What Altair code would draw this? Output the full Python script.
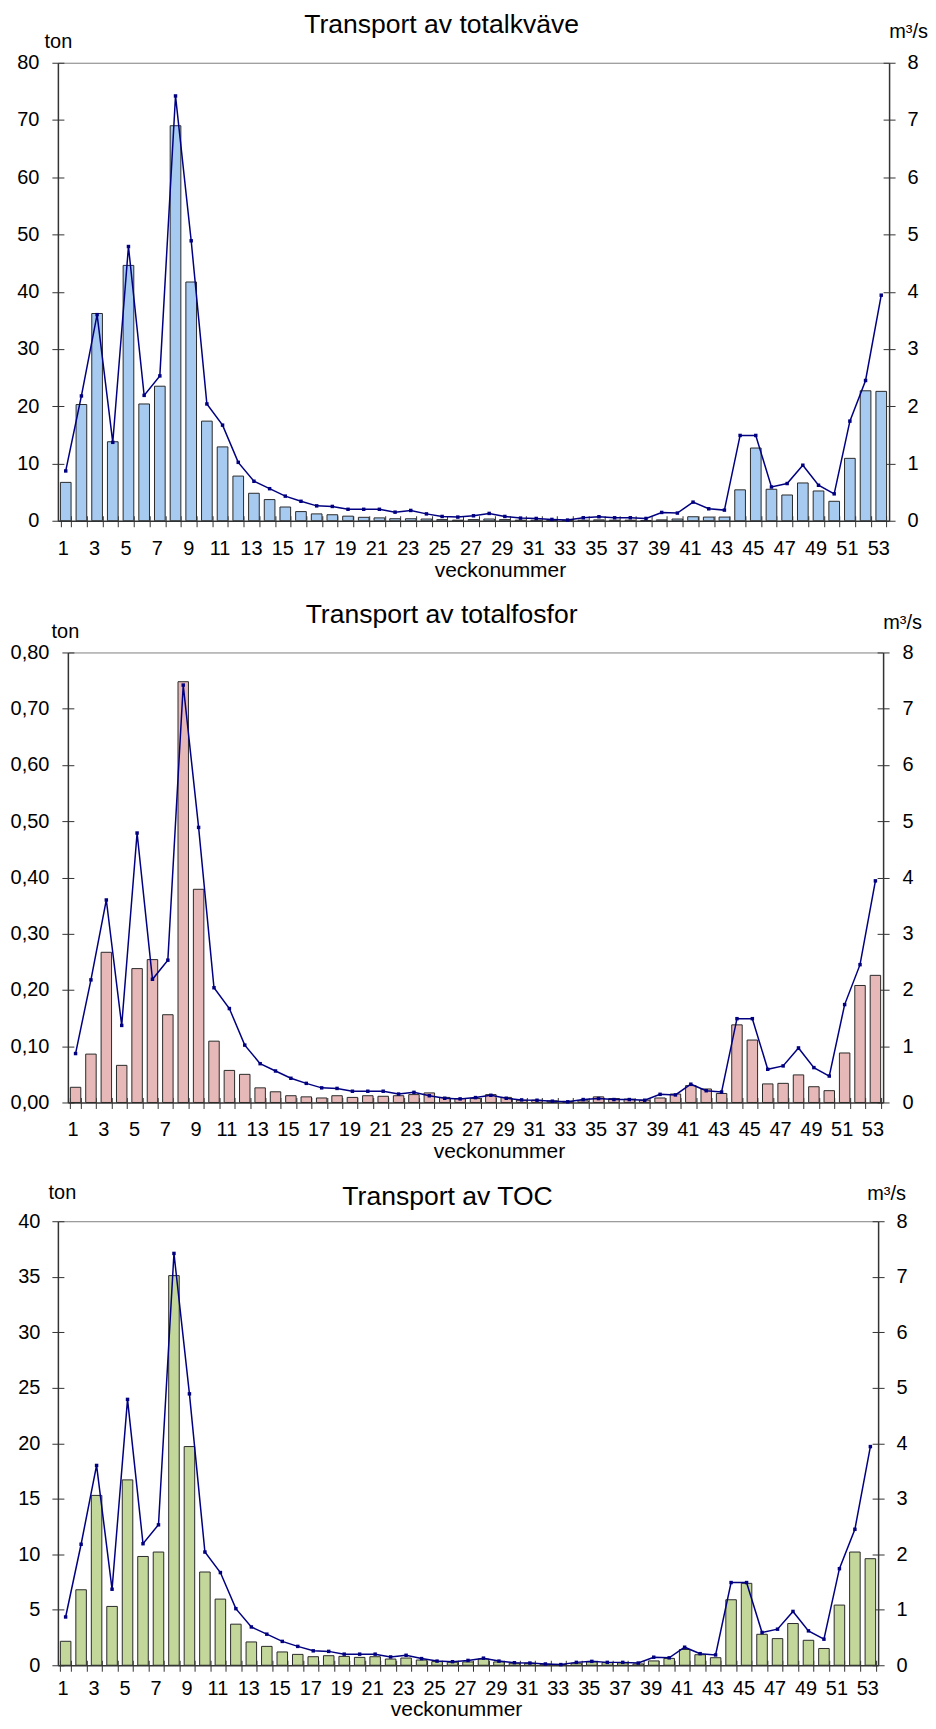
import altair as alt
import pandas as pd

weeks = list(range(1, 54))

flow = [0.87, 2.18, 3.60, 1.37, 4.79, 2.19, 2.53, 7.42, 4.89, 2.04,
        1.67, 1.02, 0.69, 0.56, 0.43, 0.34, 0.26, 0.25, 0.20, 0.20,
        0.20, 0.15, 0.18, 0.12, 0.075, 0.064, 0.087, 0.128, 0.075, 0.046,
        0.04, 0.023, 0.012, 0.052, 0.07, 0.052, 0.052, 0.04, 0.145, 0.134,
        0.325, 0.209, 0.186, 1.49, 1.49, 0.59, 0.65, 0.97, 0.62, 0.47,
        1.74, 2.45, 3.94]

kvave = [6.7, 20.3, 36.2, 13.8, 44.6, 20.4, 23.5, 69.0, 41.7, 17.4,
         12.9, 7.8, 4.8, 3.7, 2.4, 1.6, 1.2, 1.05, 0.8, 0.6,
         0.5, 0.35, 0.35, 0.3, 0.2, 0.1, 0.2, 0.3, 0.2, 0.1,
         0.1, 0.05, 0.05, 0.1, 0.15, 0.1, 0.1, 0.05, 0.15, 0.3,
         0.7, 0.64, 0.64, 5.4, 12.7, 5.5, 4.5, 6.6, 5.2, 3.4,
         10.9, 22.7, 22.6]

fosfor = [0.027, 0.086, 0.267, 0.066, 0.238, 0.254, 0.156, 0.748, 0.379, 0.109,
          0.057, 0.050, 0.026, 0.019, 0.012, 0.010, 0.008, 0.012, 0.009, 0.012,
          0.011, 0.012, 0.014, 0.017, 0.009, 0.007, 0.007, 0.014, 0.009, 0.004,
          0.004, 0.003, 0.002, 0.003, 0.010, 0.007, 0.006, 0.004, 0.008, 0.015,
          0.030, 0.024, 0.016, 0.138, 0.111, 0.033, 0.034, 0.049, 0.028, 0.021,
          0.088, 0.208, 0.226]

toc = [2.16, 6.8, 15.3, 5.3, 16.7, 9.8, 10.2, 35.1, 19.7, 8.4,
       5.96, 3.7, 2.1, 1.7, 1.2, 0.98, 0.77, 0.86, 0.8, 0.71,
       0.77, 0.56, 0.65, 0.47, 0.33, 0.27, 0.3, 0.56, 0.3, 0.18,
       0.18, 0.09, 0.06, 0.18, 0.3, 0.24, 0.21, 0.12, 0.39, 0.62,
       1.42, 0.95, 0.68, 5.9, 7.38, 2.79, 2.4, 3.76, 2.25, 1.51,
       5.42, 10.2, 9.6]

titles = ["Transport av totalkväve", "Transport av totalfosfor", "Transport av TOC"]
left_ticks_kvave = list(range(0, 81, 10))
left_ticks_fosfor = [round(i * 0.1, 2) for i in range(9)]
left_ticks_toc = list(range(0, 41, 5))
right_ticks = list(range(0, 9))

FONT = "Liberation Sans"


def panel(values, color, ymax, yticks, ylabel_expr, title, p):
    df = pd.DataFrame({"vecka": weeks, "ton": values, "flode": flow})
    base = alt.Chart(df)
    shift = p.get("xshift", 0)
    sc = dict(paddingInner=0.32, paddingOuter=0.16)
    if shift:
        sc["range"] = [shift, p["w"]]
    xscale = alt.Scale(**sc)
    x_bottom = alt.X(
        "vecka:O", scale=xscale,
        axis=alt.Axis(
            orient="bottom", title="veckonummer", labelAngle=0,
            labelExpr="datum.value % 2 == 1 ? datum.label : ''",
            tickBand="extent", labelPadding=p["xpad"], labelOffset=-3,
            titleX=p["xtx"], titleY=p["xty"], titleAlign="center",
            titleBaseline="alphabetic", titleFontSize=21,
        ),
    )
    # inner halves of the x ticks (ticks cross the axis line)
    x_inner = alt.X(
        "vecka:O", scale=xscale,
        axis=alt.Axis(
            orient="top", offset=-p["h"], labels=False, domain=False,
            tickBand="extent", tickSize=5, title=None,
        ),
    )
    x_top = alt.X(
        "vecka:O", scale=xscale,
        axis=alt.Axis(
            orient="top", title=title, labels=False, ticks=False,
            domainColor="#808080", domainWidth=1,
            titleFontSize=26.6, titleX=p["ttx"], titleY=p["tty"],
            titleAlign="center", titleBaseline="alphabetic",
        ),
    )
    x_none = alt.X("vecka:O", scale=xscale, axis=None)
    yaxis = dict(
        values=yticks, labelExpr=ylabel_expr, title="ton",
        titleAngle=0, titleAlign="center", titleBaseline="alphabetic",
        titleX=p["ltx"], titleY=p["lty"], labelPadding=p["lpad"],
    )
    if shift:
        yaxis["offset"] = -shift
    bars = base.mark_bar(color=color, stroke="#2a2a2a", strokeWidth=1).encode(
        x=x_bottom,
        y=alt.Y("ton:Q", scale=alt.Scale(domain=[0, ymax], nice=False),
                axis=alt.Axis(**yaxis)),
    )
    yflow_scale = alt.Scale(domain=[0, 8], nice=False)
    line = base.mark_line(color="#000080", strokeWidth=1.5).encode(
        x=x_inner,
        y=alt.Y(
            "flode:Q", scale=yflow_scale,
            axis=alt.Axis(
                orient="right", values=right_ticks, title="m³/s",
                titleAngle=0, titleAlign="center", titleBaseline="alphabetic",
                titleX=p["rtx"], titleY=p["rty"], labelPadding=p["rpad"],
            ),
        ),
    )
    # points; their (flow) axis only draws the inner halves of the left ticks
    pts = base.mark_square(color="#000080", size=12, opacity=1).encode(
        x=x_top,
        y=alt.Y("flode:Q", scale=yflow_scale,
                axis=alt.Axis(orient="right", offset=shift - p["w"], values=right_ticks,
                              labels=False, domain=False, tickSize=6, title=None)),
    )
    # inner halves of the right ticks
    ghost = base.mark_line(strokeOpacity=0).encode(
        x=x_none,
        y=alt.Y("flode:Q", scale=yflow_scale,
                axis=alt.Axis(orient="left", offset=-p["w"], values=right_ticks,
                              labels=False, domain=False, tickSize=6, title=None)),
    )
    return (
        alt.layer(bars, line, pts, ghost)
        .resolve_scale(y="independent")
        .properties(width=p["w"], height=p["h"])
    )


c1 = panel(kvave, "#A6CAF0", 80, left_ticks_kvave, "datum.label", titles[0],
           dict(w=833, h=459, xpad=12, xtx=443, xty=56, ltx=0, lty=-15, lpad=13,
                rtx=19, rty=-25, rpad=12, ttx=384, tty=-30))
c2 = panel(fosfor, "#E6B9B8", 0.8, left_ticks_fosfor,
           "replace(format(datum.value, '.2f'), '.', ',')", titles[1],
           dict(w=827, h=451, xshift=10, xpad=11, xtx=442, xty=55, ltx=-3, lty=-15,
                lpad=13, rtx=19, rty=-24, rpad=13, ttx=384, tty=-30))
c3 = panel(toc, "#C4D79B", 40, left_ticks_toc, "datum.label", titles[2],
           dict(w=822, h=445, xpad=7, xtx=399, xty=50, ltx=4, lty=-23, lpad=12,
                rtx=8, rty=-22, rpad=12, ttx=390, tty=-17))

chart = (
    alt.concat(c1, c2, c3, columns=1, spacing=19)
    .properties(padding={"left": 1, "top": 1, "right": 0, "bottom": 0})
    .configure_view(stroke="transparent")
    .configure_axis(
        labelFont=FONT, labelFontSize=20, labelColor="black",
        titleFont=FONT, titleFontSize=20, titleFontWeight="normal", titleColor="black",
        tickColor="#333333", tickSize=6, domainColor="#333333", domainWidth=1.5,
        grid=False, labelOverlap=False,
    )
)

chart.save("out.html", embed_options={"renderer": "svg", "actions": False})
